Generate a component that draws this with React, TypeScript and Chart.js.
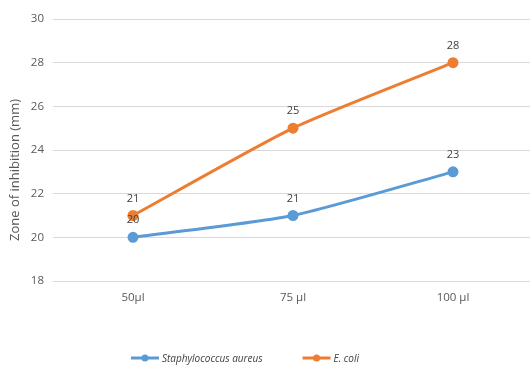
import React, { useEffect, useRef } from "react";
import { Chart, registerables } from "chart.js";

Chart.register(...registerables);

// Volumes tested and zones of inhibition (mm) per organism
const categories = ["50µl", "75 µl", "100 µl"];
const staphValues = [20, 21, 23];
const ecoliValues = [21, 25, 28];
const seriesNames = ["Staphylococcus aureus", "E. coli"];
const yTicks = { min: 18, max: 30, step: 2 };
const yTitle = "Zone of inhibition (mm)";

const BLUE = "#5B9BD5";
const ORANGE = "#ED7D31";
const FONT = "'Open Sans', 'Liberation Sans', sans-serif";

// Value labels above each point
const valueLabels = {
  id: "valueLabels",
  afterDatasetsDraw(chart: any) {
    const { ctx } = chart;
    ctx.save();
    ctx.font = `11px ${FONT}`;
    ctx.fillStyle = "#404040";
    ctx.textAlign = "center";
    ctx.textBaseline = "middle";
    chart.data.datasets.forEach((ds: any, i: number) => {
      const meta = chart.getDatasetMeta(i);
      meta.data.forEach((pt: any, j: number) => {
        ctx.fillText(String(ds.data[j]), pt.x, pt.y - 17);
      });
    });
    ctx.restore();
  },
};

// Rotated value-axis title, sitting a little below the plot's midline
const axisTitle = {
  id: "axisTitle",
  afterDraw(chart: any) {
    const { ctx, chartArea } = chart;
    ctx.save();
    ctx.translate(15, (chartArea.top + chartArea.bottom) / 2 + 20);
    ctx.rotate(-Math.PI / 2);
    ctx.font = `13px ${FONT}`;
    ctx.fillStyle = "#595959";
    ctx.textAlign = "center";
    ctx.textBaseline = "middle";
    ctx.fillText(yTitle, 0, 0);
    ctx.restore();
  },
};

// Line-with-marker legend along the bottom
const lineLegend = {
  id: "lineLegend",
  afterDraw(chart: any) {
    const { ctx } = chart;
    const y = 358;
    const markerW = 28;
    const gap = 3;
    const itemGap = 40;
    ctx.save();
    ctx.font = `italic 10px ${FONT}`;
    const widths = chart.data.datasets.map(
      (ds: any) => markerW + gap + ctx.measureText(ds.label).width
    );
    const total = widths.reduce((a: number, b: number) => a + b, 0) + itemGap * (widths.length - 1);
    let x = 245 - total / 2;
    chart.data.datasets.forEach((ds: any, i: number) => {
      ctx.strokeStyle = ds.borderColor;
      ctx.lineWidth = 3;
      ctx.beginPath();
      ctx.moveTo(x, y);
      ctx.lineTo(x + markerW, y);
      ctx.stroke();
      ctx.fillStyle = ds.borderColor;
      ctx.beginPath();
      ctx.arc(x + markerW / 2, y, 3.5, 0, Math.PI * 2);
      ctx.fill();
      ctx.fillStyle = "#404040";
      ctx.textAlign = "left";
      ctx.textBaseline = "middle";
      ctx.fillText(ds.label, x + markerW + gap, y + 1);
      x += widths[i] + itemGap;
    });
    ctx.restore();
  },
};

export default function App() {
  const canvasRef = useRef<HTMLCanvasElement | null>(null);

  useEffect(() => {
    document.body.style.margin = "0";
    const canvas = canvasRef.current;
    if (!canvas) return;
    const chart = new Chart(canvas, {
      type: "line",
      data: {
        labels: categories,
        datasets: [
          {
            label: seriesNames[0],
            data: staphValues,
            borderColor: BLUE,
            backgroundColor: BLUE,
            borderWidth: 3,
            pointRadius: 4,
            pointHoverRadius: 4,
            tension: 0.2,
          },
          {
            label: seriesNames[1],
            data: ecoliValues,
            borderColor: ORANGE,
            backgroundColor: ORANGE,
            borderWidth: 3,
            pointRadius: 4,
            pointHoverRadius: 4,
            tension: 0.2,
          },
        ],
      },
      options: {
        responsive: false,
        animation: false,
        events: [],
        layout: { padding: { top: 19, right: 12, left: 0, bottom: 0 } },
        plugins: {
          legend: { display: false },
          tooltip: { enabled: false },
        },
        scales: {
          x: {
            offset: true,
            grid: { display: false, drawTicks: false },
            border: { display: true, color: "#d9d9d9", width: 1 },
            ticks: { color: "#595959", font: { family: FONT, size: 11.5 }, padding: 10 },
            afterFit(scale: any) {
              scale.height = 365 - 281;
            },
          },
          y: {
            min: yTicks.min,
            max: yTicks.max,
            ticks: {
              stepSize: yTicks.step,
              color: "#595959",
              font: { family: FONT, size: 11.5 },
              padding: 9,
            },
            grid: { color: "#d9d9d9", drawTicks: false },
            border: { display: false },
            afterFit(scale: any) {
              scale.width = 53;
            },
          },
        },
      },
      plugins: [valueLabels, axisTitle, lineLegend],
    });
    return () => chart.destroy();
  }, []);

  return (
    <div style={{ position: "relative", width: 530, height: 365, overflow: "hidden", background: "#fff" }}>
      <canvas ref={canvasRef} width={545} height={365} style={{ display: "block" }} />
    </div>
  );
}
